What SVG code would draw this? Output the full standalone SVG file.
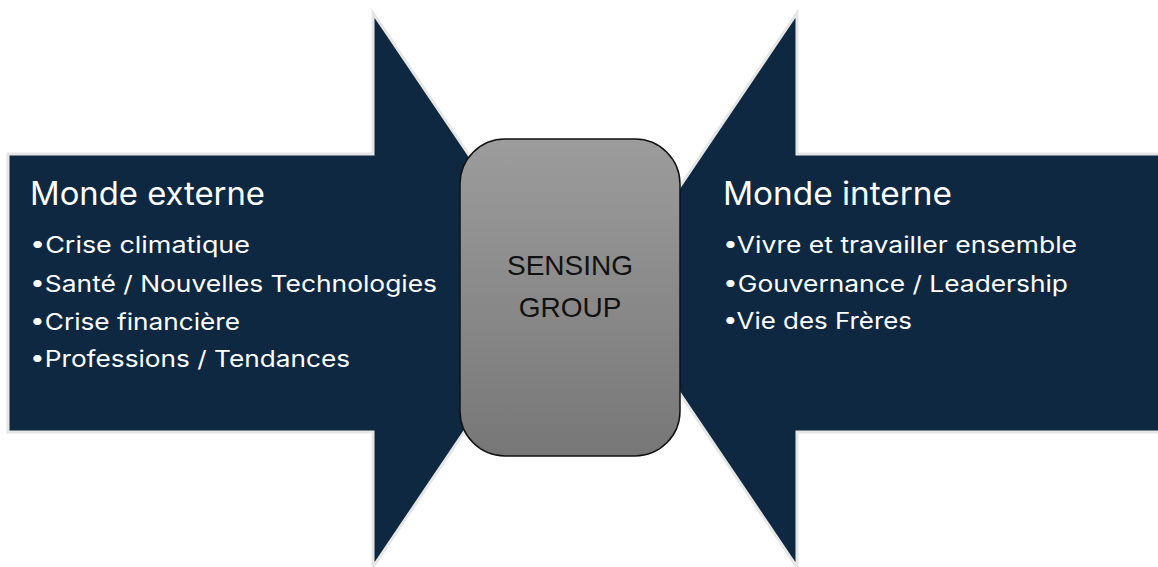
<svg xmlns="http://www.w3.org/2000/svg" width="1158" height="567" viewBox="0 0 1158 567">
  <defs>
    <linearGradient id="gray" x1="0" y1="0" x2="0" y2="1">
      <stop offset="0" stop-color="#9c9c9c"/>
      <stop offset="1" stop-color="#777777"/>
    </linearGradient>
    <style>
      .arrow { fill: #0e2841; stroke: #e6e6e6; stroke-width: 3; stroke-linejoin: miter; }
      .title { font-family: Inter, "Liberation Sans", Arial, sans-serif; font-size: 32px; fill: #ffffff; }
      .item { font-family: Inter, "Liberation Sans", Arial, sans-serif; font-size: 22.5px; fill: #ffffff; }
      .center { font-family: "Liberation Sans", Arial, sans-serif; font-size: 28px; fill: #111111; text-anchor: middle; }
    </style>
  </defs>
  <rect width="1158" height="567" fill="#ffffff"/>
  <g id="left-arrow">
    <polygon class="arrow" points="8,154 373,154 373,13 560,290 373,567 373,432 8,432"/>
    <text class="title" x="30" y="205" textLength="235" lengthAdjust="spacingAndGlyphs">Monde externe</text>
    <text class="item" x="30" y="253" textLength="220" lengthAdjust="spacingAndGlyphs">•Crise climatique</text>
    <text class="item" x="30" y="292" textLength="407" lengthAdjust="spacingAndGlyphs">•Santé / Nouvelles Technologies</text>
    <text class="item" x="30" y="330" textLength="210" lengthAdjust="spacingAndGlyphs">•Crise financière</text>
    <text class="item" x="30" y="367" textLength="320" lengthAdjust="spacingAndGlyphs">•Professions / Tendances</text>
  </g>
  <g id="right-arrow">
    <polygon class="arrow" points="1160,154 797,154 797,13 610,290 797,567 797,432 1160,432"/>
    <text class="title" x="723" y="205" textLength="229" lengthAdjust="spacingAndGlyphs">Monde interne</text>
    <text class="item" x="723" y="253" textLength="354" lengthAdjust="spacingAndGlyphs">•Vivre et travailler ensemble</text>
    <text class="item" x="723" y="292" textLength="345" lengthAdjust="spacingAndGlyphs">•Gouvernance / Leadership</text>
    <text class="item" x="723" y="329" textLength="189" lengthAdjust="spacingAndGlyphs">•Vie des Frères</text>
  </g>
  <g id="connectors"></g>
  <g id="sensing-group">
    <rect x="460" y="139" width="220" height="317" rx="45" ry="45" fill="url(#gray)" stroke="#111111" stroke-width="1.5"/>
    <text class="center" x="570" y="275">SENSING</text>
    <text class="center" x="570" y="317">GROUP</text>
  </g>
</svg>
